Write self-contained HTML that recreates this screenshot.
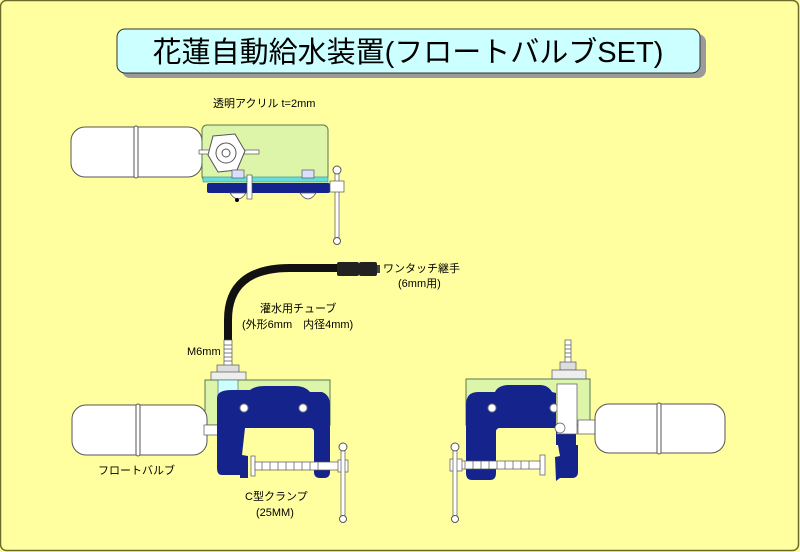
<!DOCTYPE html>
<html><head><meta charset="utf-8"><style>
html,body{margin:0;padding:0;background:#ffffa0}
svg{display:block}
text{font-family:"Liberation Sans","Noto Sans CJK JP",sans-serif;fill:#000}
</style></head><body>
<svg width="800" height="552" viewBox="0 0 800 552" xmlns="http://www.w3.org/2000/svg">
<rect x="0.5" y="0.5" width="798" height="550" rx="6" fill="#ffffa0" stroke="#6b6b2a" stroke-width="1.5"/>
<!-- title -->
<rect x="122" y="34" width="584" height="44" rx="8" fill="#9a9a9a"/>
<rect x="117" y="29" width="583" height="44" rx="8" fill="#ccffff" stroke="#333" stroke-width="1"/>
<text x="408" y="62" font-size="29" text-anchor="middle">花蓮自動給水装置(フロートバルブSET)</text>

<!-- TOP ASSEMBLY -->
<text x="213" y="107" font-size="11">透明アクリル t=2mm</text>
<rect x="71" y="127" width="131" height="50" rx="14" fill="#fff" stroke="#555"/>
<rect x="134" y="126" width="4" height="52" rx="2" fill="#fff" stroke="#555"/>
<rect x="202" y="125" width="126" height="56" rx="5" fill="#ddf5a8" stroke="#557755"/>
<rect x="199" y="150" width="60" height="4" fill="#fff" stroke="#555" stroke-width="0.7"/>
<polygon points="213,136 235,134 245,151 237,170 218,172 208,155" fill="#fff" stroke="#555"/>
<circle cx="226" cy="153" r="10" fill="#fff" stroke="#555"/>
<circle cx="226" cy="153" r="4" fill="#fff" stroke="#555"/>
<rect x="203" y="177" width="125" height="5" fill="#66dddd" stroke="#3a9a9a" stroke-width="0.7"/>
<rect x="207" y="183" width="123" height="10" rx="2" fill="#15238c"/>
<rect x="232" y="170" width="12" height="8" fill="#ddf" stroke="#555" stroke-width="0.7"/>
<rect x="302" y="170" width="12" height="8" fill="#ddf" stroke="#555" stroke-width="0.7"/>
<path d="M230 193 q8 12 16 0 Z" fill="#fff" stroke="#555" stroke-width="0.7"/>
<path d="M300 193 q8 12 16 0 Z" fill="#fff" stroke="#555" stroke-width="0.7"/>
<rect x="247" y="175" width="5" height="24" fill="#fff" stroke="#555" stroke-width="0.7"/>
<circle cx="237" cy="200" r="2" fill="#000"/>
<rect x="335" y="170" width="4" height="70" fill="#fff" stroke="#555" stroke-width="0.7"/>
<circle cx="337" cy="170" r="4" fill="#fff" stroke="#555"/>
<circle cx="337" cy="241" r="3.5" fill="#fff" stroke="#555"/>
<rect x="330" y="181" width="14" height="11" fill="#fff" stroke="#555" stroke-width="0.7"/>

<!-- TUBE -->
<path d="M228 342 L228 320 Q228 268 290 268 L342 268" fill="none" stroke="#111" stroke-width="8"/>
<rect x="337" y="262" width="22" height="14" rx="2" fill="#222"/>
<rect x="359" y="262" width="18" height="14" rx="2" fill="#222"/>
<rect x="377" y="265" width="3" height="8" fill="#444"/>
<text x="383" y="272" font-size="11">ワンタッチ継手</text>
<text x="398" y="287" font-size="11">(6mm用)</text>
<text x="260" y="312" font-size="11">灌水用チューブ</text>
<text x="242" y="328" font-size="11">(外形6mm　内径4mm)</text>
<text x="187" y="355" font-size="11">M6mm</text>

<!-- BOTTOM LEFT -->
<rect x="224" y="340" width="8" height="26" fill="#fff" stroke="#555" stroke-width="0.7"/>
<path d="M224 345h8M224 349h8M224 353h8M224 357h8M224 361h8" stroke="#555" stroke-width="0.7"/>
<rect x="217" y="365" width="22" height="8" fill="#ddd" stroke="#555" stroke-width="0.7"/>
<rect x="211" y="372" width="35" height="9" fill="#eee" stroke="#555" stroke-width="0.7"/>
<rect x="205" y="380" width="125" height="45" fill="#ddf5a8" stroke="#557755"/>
<rect x="218" y="380" width="20" height="45" fill="#ccffff" stroke="#557755" stroke-width="0.7"/>
<rect x="72" y="405" width="135" height="50" rx="14" fill="#fff" stroke="#555"/>
<rect x="136" y="404" width="4" height="52" rx="2" fill="#fff" stroke="#555"/>
<rect x="204" y="425" width="20" height="10" fill="#fff" stroke="#555" stroke-width="0.7"/>
<path d="M217 398 Q217 390 232 390 L250 390 Q255 386 265 386 L295 386 Q305 386 310 392 L322 392 Q330 395 330 405 L330 472 Q330 478 324 478 L320 478 Q314 478 314 472 L314 432 Q314 428 310 428 L245 428 L242 455 L248 456 L248 478 L240 478 L240 475 L222 475 Q217 475 217 468 Z" fill="#15238c"/>
<circle cx="244" cy="408" r="4" fill="#fff" stroke="#888"/>
<circle cx="303" cy="408" r="4" fill="#fff" stroke="#888"/>
<rect x="251" y="456" width="4" height="20" fill="#fff" stroke="#555" stroke-width="0.7"/>
<rect x="255" y="462" width="85" height="8" fill="#fff" stroke="#555" stroke-width="0.7"/>
<path d="M262 462v8M270 462v8M278 462v8M286 462v8M294 462v8M302 462v8M310 462v8M318 462v8" stroke="#555" stroke-width="0.7"/>
<rect x="338" y="460" width="10" height="12" fill="#fff" stroke="#555" stroke-width="0.7"/>
<rect x="341" y="448" width="4" height="70" fill="#fff" stroke="#555" stroke-width="0.7"/>
<circle cx="343" cy="447" r="4" fill="#fff" stroke="#555"/>
<circle cx="343" cy="519" r="3.5" fill="#fff" stroke="#555"/>
<text x="98" y="474" font-size="11">フロートバルブ</text>
<text x="245" y="500" font-size="11">C型クランプ</text>
<text x="256" y="516" font-size="11">(25MM)</text>

<!-- BOTTOM RIGHT -->
<rect x="565" y="340" width="6" height="25" fill="#fff" stroke="#555" stroke-width="0.7"/>
<path d="M565 345h6M565 349h6M565 353h6M565 357h6" stroke="#555" stroke-width="0.7"/>
<rect x="560" y="362" width="16" height="8" fill="#ddd" stroke="#555" stroke-width="0.7"/>
<rect x="552" y="370" width="34" height="9" fill="#eee" stroke="#555" stroke-width="0.7"/>
<rect x="466" y="379" width="124" height="46" fill="#ddf5a8" stroke="#557755"/>
<path d="M466 405 Q466 392 478 392 L495 392 Q498 385 510 385 L540 385 Q548 385 552 392 L556 393 L556 428 L500 428 Q496 428 496 432 L496 473 Q496 480 490 480 L472 480 Q466 480 466 473 Z" fill="#15238c"/>
<rect x="556" y="430" width="20" height="15" fill="#15238c"/>
<path d="M558 445 L578 445 L578 472 Q578 478 572 478 L560 478 L556 481 L555 457 L560 456 Z" fill="#15238c"/>
<circle cx="492" cy="408" r="4" fill="#fff" stroke="#888"/>
<circle cx="554" cy="408" r="4" fill="#fff" stroke="#888"/>
<rect x="557" y="384" width="20" height="50" fill="#fff" stroke="#555" stroke-width="0.7"/>
<rect x="578" y="420" width="20" height="14" fill="#fff" stroke="#555" stroke-width="0.7"/>
<circle cx="560" cy="428" r="5" fill="#fff" stroke="#555" stroke-width="0.7"/>
<rect x="595" y="404" width="130" height="49" rx="14" fill="#fff" stroke="#555"/>
<rect x="657" y="403" width="4" height="51" rx="2" fill="#fff" stroke="#555"/>
<rect x="540" y="455" width="5" height="20" fill="#fff" stroke="#555" stroke-width="0.7"/>
<rect x="455" y="461" width="85" height="8" fill="#fff" stroke="#555" stroke-width="0.7"/>
<path d="M465 461v8M473 461v8M481 461v8M489 461v8M497 461v8M505 461v8M513 461v8M521 461v8M529 461v8" stroke="#555" stroke-width="0.7"/>
<rect x="450" y="459" width="12" height="12" fill="#fff" stroke="#555" stroke-width="0.7"/>
<rect x="453" y="448" width="4" height="70" fill="#fff" stroke="#555" stroke-width="0.7"/>
<circle cx="455" cy="447" r="4" fill="#fff" stroke="#555"/>
<circle cx="455" cy="519" r="3.5" fill="#fff" stroke="#555"/>
</svg>
</body></html>
